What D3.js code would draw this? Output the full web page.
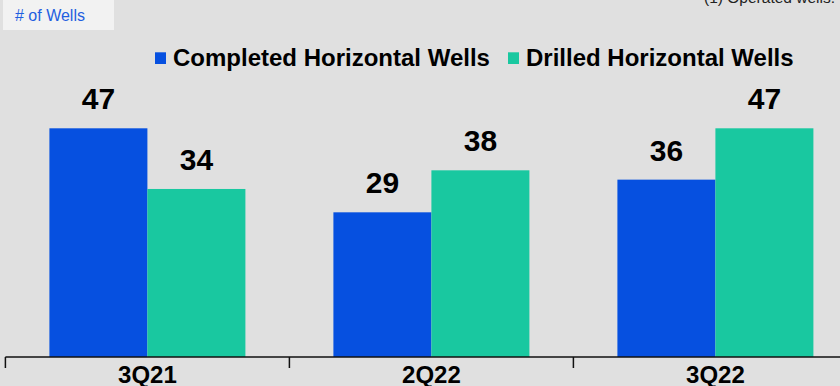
<!DOCTYPE html>
<html>
<head>
<meta charset="utf-8">
<script src="https://cdn.jsdelivr.net/npm/d3@7/dist/d3.min.js"></script>
<style>
  html, body { margin: 0; padding: 0; background: #e0e0e0; }
  svg { display: block; font-family: "Liberation Sans", Arial, sans-serif; }
</style>
</head>
<body>
<svg id="chart" width="840" height="386"></svg>
<script>
// Quarterly well counts
const quarters = ["3Q21", "2Q22", "3Q22"];
const seriesNames = ["Completed Horizontal Wells", "Drilled Horizontal Wells"];
const completed = [47, 29, 36];
const drilled = [34, 38, 47];
const seriesColors = ["#0650e0", "#19c8a0"];

const W = 840, H = 386;
const svg = d3.select("#chart");

svg.append("rect").attr("width", W).attr("height", H).attr("fill", "#e0e0e0");

// unit label box
svg.append("rect").attr("x", 3).attr("y", 0).attr("width", 111).attr("height", 30).attr("fill", "#f2f2f2");
svg.append("text").attr("x", 15).attr("y", 21).attr("font-size", 16).attr("fill", "#1f5fe0").text("# of Wells");

// footnote
svg.append("text").attr("x", 835).attr("y", 3).attr("text-anchor", "end")
  .attr("font-size", 15.5).attr("fill", "#222").text("(1) Operated wells.");

const rows = quarters.map((q, i) => ({ q, values: [completed[i], drilled[i]] }));

const x = d3.scaleBand().domain(quarters).range([5.4, 857.4]).paddingInner(0).paddingOuter(0);
const x1 = d3.scaleBand().domain(seriesNames).range([0, x.bandwidth()]).paddingInner(0).paddingOuter(0.449);
const y = d3.scaleLinear().domain([-2, 50]).range([357, 114.3]);
const color = d3.scaleOrdinal().domain(seriesNames).range(seriesColors);

const groups = svg.append("g").selectAll("g").data(rows).join("g")
  .attr("transform", d => `translate(${x(d.q)},0)`);

groups.selectAll("rect").data(d => d.values.map((v, k) => ({ name: seriesNames[k], v })))
  .join("rect")
  .attr("x", d => x1(d.name))
  .attr("width", x1.bandwidth())
  .attr("y", d => y(d.v))
  .attr("height", d => y(y.domain()[0]) - y(d.v))
  .attr("fill", d => color(d.name));

groups.selectAll("text.val").data(d => d.values.map((v, k) => ({ name: seriesNames[k], v })))
  .join("text").attr("class", "val")
  .attr("x", d => x1(d.name) + x1.bandwidth() / 2)
  .attr("y", d => y(d.v) - 19)
  .attr("text-anchor", "middle")
  .attr("font-size", 30).attr("font-weight", "bold").attr("fill", "#000")
  .text(d => d.v);

// category axis
const axis = svg.append("g").attr("transform", `translate(0,${y(y.domain()[0])})`);
axis.append("line").attr("x1", 5.4).attr("x2", 840).attr("y1", 0).attr("y2", 0)
  .attr("stroke", "#111").attr("stroke-width", 1.5);
axis.selectAll("line.tick").data(quarters).join("line").attr("class", "tick")
  .attr("x1", d => x(d)).attr("x2", d => x(d)).attr("y1", 0).attr("y2", 11)
  .attr("stroke", "#111").attr("stroke-width", 1.5);
axis.selectAll("text").data(quarters).join("text")
  .attr("x", d => x(d) + x.bandwidth() / 2).attr("y", 25.5)
  .attr("text-anchor", "middle").attr("font-size", 24).attr("font-weight", "bold")
  .attr("fill", "#000").text(d => d);

// legend
const legendX = [155, 508];
const legend = svg.append("g").selectAll("g").data(seriesNames).join("g")
  .attr("transform", (d, i) => `translate(${legendX[i]},0)`);
legend.append("rect").attr("x", 0).attr("y", 52.3).attr("width", 11).attr("height", 11.7)
  .attr("fill", d => color(d));
legend.append("text").attr("x", 18).attr("y", 66).attr("font-size", 24).attr("font-weight", "bold")
  .attr("fill", "#000").text(d => d);
</script>
</body>
</html>
